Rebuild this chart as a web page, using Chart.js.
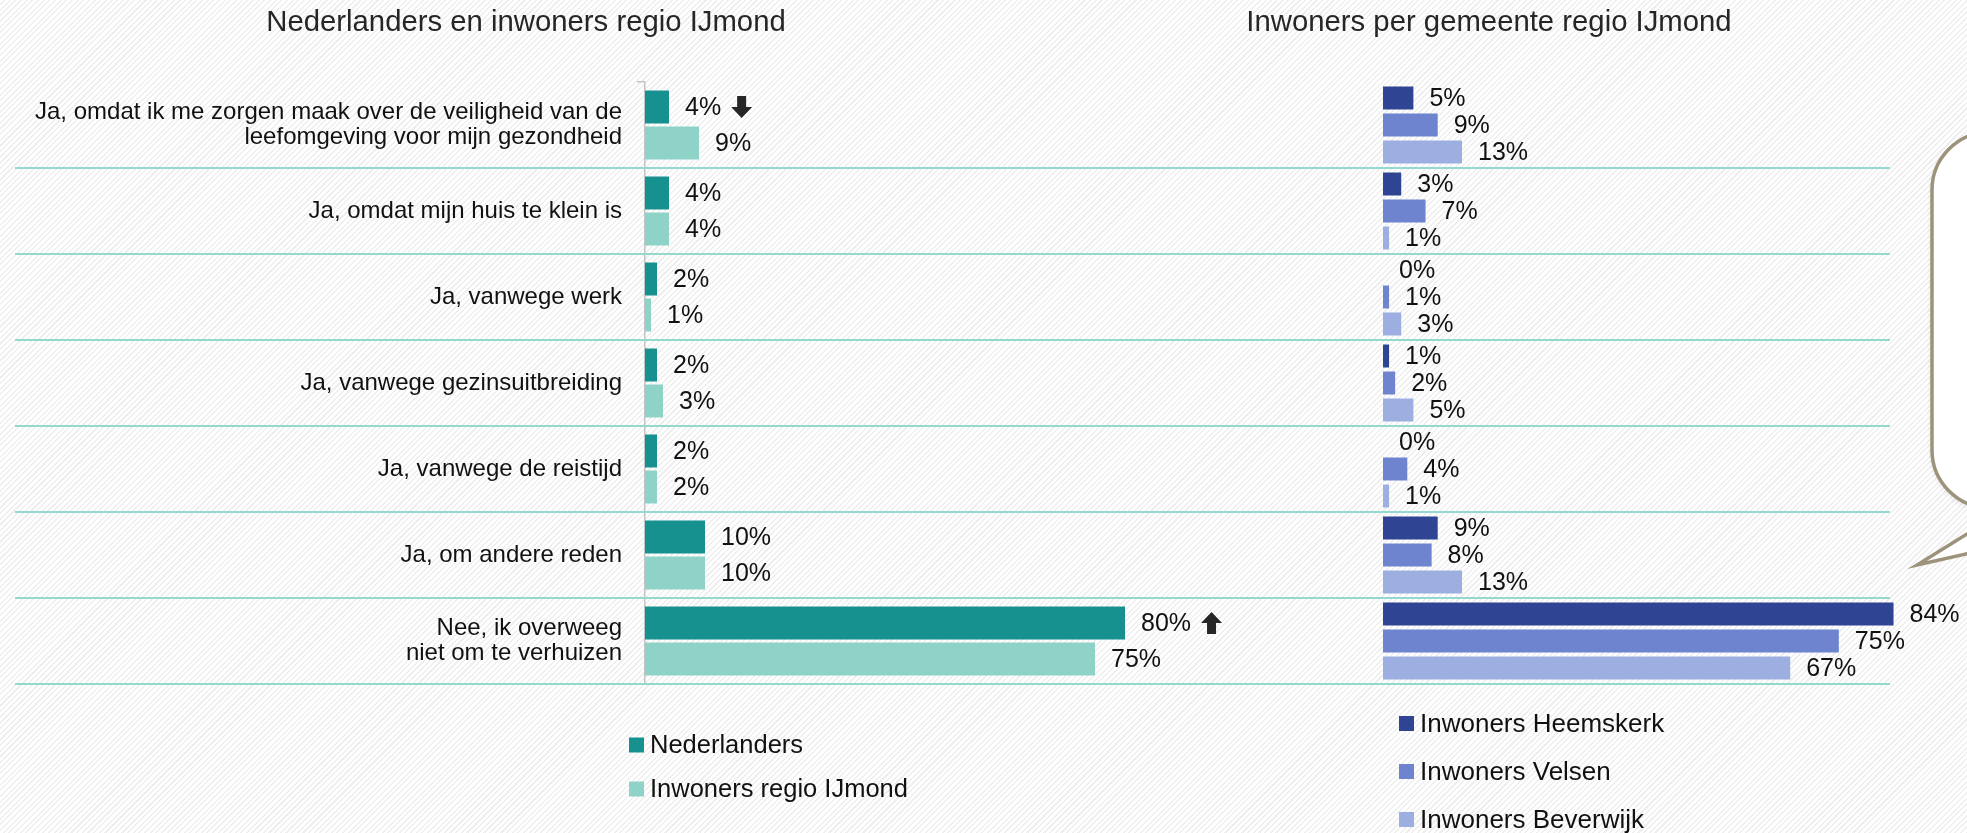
<!DOCTYPE html>
<html><head><meta charset="utf-8">
<script src="https://cdn.jsdelivr.net/npm/chart.js@4.4.1/dist/chart.umd.min.js"></script>
<style>
html,body{margin:0;padding:0;width:1967px;height:833px;overflow:hidden;
background:#fff repeating-linear-gradient(135deg,#ffffff 0px,#ffffff 2.5px,#efefef 2.5px,#efefef 4px);}
#wrap{position:relative;width:1967px;height:833px;}
canvas{position:absolute;left:0;top:0;}
</style></head>
<body><div id="wrap"><canvas id="c1" width="1967" height="833"></canvas><canvas id="c2" width="1967" height="833"></canvas></div>
<script>
const FONT = '"Liberation Sans", Arial, Helvetica, sans-serif';

// ---- data ----
const categories = [
  ['Ja, omdat ik me zorgen maak over de veiligheid van de', 'leefomgeving voor mijn gezondheid'],
  'Ja, omdat mijn huis te klein is',
  'Ja, vanwege werk',
  'Ja, vanwege gezinsuitbreiding',
  'Ja, vanwege de reistijd',
  'Ja, om andere reden',
  ['Nee, ik overweeg', 'niet om te verhuizen']
];
const leftTitle = 'Nederlanders en inwoners regio IJmond';
const rightTitle = 'Inwoners per gemeente regio IJmond';
const leftSeries = ['Nederlanders', 'Inwoners regio IJmond'];
const rightSeries = ['Inwoners Heemskerk', 'Inwoners Velsen', 'Inwoners Beverwijk'];
const nederlanders = [4, 4, 2, 2, 2, 10, 80];
const ijmond = [9, 4, 1, 3, 2, 10, 75];
const heemskerk = [5, 3, 0, 1, 0, 9, 84];
const velsen = [9, 7, 1, 2, 4, 8, 75];
const beverwijk = [13, 1, 3, 5, 1, 13, 67];
const nederlandersSignif = ['down', null, null, null, null, null, 'up'];

const leftColors = ['#17918f', '#8fd3c8'];
const rightColors = ['#2f4593', '#6f84cf', '#9dafe0'];

Chart.defaults.font.family = FONT;
Chart.defaults.color = '#1a1a1a';

function drawArrow(ctx, x, cy, dir) {
  const w = 21, h = 22, sw = 9, hh = 11;
  const cx = x + w / 2;
  ctx.beginPath();
  if (dir === 'down') {
    const top = cy - h / 2;
    ctx.moveTo(cx - sw / 2, top);
    ctx.lineTo(cx + sw / 2, top);
    ctx.lineTo(cx + sw / 2, top + h - hh);
    ctx.lineTo(cx + w / 2, top + h - hh);
    ctx.lineTo(cx, top + h);
    ctx.lineTo(cx - w / 2, top + h - hh);
    ctx.lineTo(cx - sw / 2, top + h - hh);
  } else {
    const bot = cy + h / 2;
    ctx.moveTo(cx - sw / 2, bot);
    ctx.lineTo(cx + sw / 2, bot);
    ctx.lineTo(cx + sw / 2, bot - h + hh);
    ctx.lineTo(cx + w / 2, bot - h + hh);
    ctx.lineTo(cx, bot - h);
    ctx.lineTo(cx - w / 2, bot - h + hh);
    ctx.lineTo(cx - sw / 2, bot - h + hh);
  }
  ctx.closePath();
  ctx.fillStyle = '#262626';
  ctx.fill();
}

const overlay = {
  id: 'overlay',
  beforeDatasetsDraw(chart, args, o) {
    if (!o.separators) return;
    const ctx = chart.ctx, ys = chart.scales.y, n = chart.data.labels.length;
    const step = ys.getPixelForValue(1) - ys.getPixelForValue(0);
    ctx.save();
    ctx.strokeStyle = '#95d8cf';
    ctx.lineWidth = 2;
    for (let i = 0; i < n; i++) {
      const yy = Math.round(ys.getPixelForValue(i) + step / 2);
      ctx.beginPath();
      ctx.moveTo(o.separators[0], yy);
      ctx.lineTo(o.separators[1], yy);
      ctx.stroke();
    }
    ctx.restore();
  },
  afterDatasetsDraw(chart, args, o) {
    const ctx = chart.ctx;
    ctx.save();
    ctx.font = '25px ' + FONT;
    ctx.textAlign = 'left';
    ctx.textBaseline = 'middle';
    chart.data.datasets.forEach((ds, di) => {
      const meta = chart.getDatasetMeta(di);
      meta.data.forEach((bar, i) => {
        const txt = ds.data[i] + '%';
        const tx = bar.x + 16;
        ctx.fillStyle = '#111111';
        ctx.fillText(txt, tx, bar.y + 1);
        const sig = ds.signif ? ds.signif[i] : null;
        if (sig) {
          const w = ctx.measureText(txt).width;
          drawArrow(ctx, tx + w + 10, bar.y, sig);
        }
      });
    });
    ctx.restore();
  },
  afterDraw(chart, args, o) {
    const ctx = chart.ctx;
    ctx.save();
    // title
    ctx.font = '29.3px ' + FONT;
    ctx.fillStyle = '#262626';
    ctx.textAlign = 'center';
    ctx.textBaseline = 'middle';
    ctx.fillText(o.title, o.titleX, 23);
    // legend
    ctx.font = o.legendSize + 'px ' + FONT;
    ctx.textAlign = 'left';
    chart.data.datasets.forEach((ds, i) => {
      const cy = o.legendY + i * o.legendStep;
      ctx.fillStyle = ds.backgroundColor;
      ctx.fillRect(o.legendX, cy - 7.5, 15, 15);
      ctx.fillStyle = '#111111';
      ctx.fillText(ds.label, o.legendX + 21, cy + 1);
    });
    // callout
    if (o.callout) {
      ctx.strokeStyle = '#9d927a';
      ctx.lineWidth = 3.5;
      ctx.fillStyle = '#ffffff';
      ctx.shadowColor = 'rgba(0,0,0,0.12)';
      ctx.shadowBlur = 6;
      ctx.shadowOffsetY = 2;
      ctx.beginPath();
      ctx.roundRect(1932, 132, 200, 376, 58);
      ctx.fill();
      ctx.shadowColor = 'transparent';
      ctx.stroke();
      ctx.beginPath();
      ctx.moveTo(1975, 529);
      ctx.lineTo(1917, 565);
      ctx.lineTo(1975, 552);
      ctx.closePath();
      ctx.fill();
      ctx.beginPath();
      ctx.moveTo(1975, 529);
      ctx.lineTo(1917, 565);
      ctx.lineTo(1975, 552);
      ctx.stroke();
    }
    ctx.restore();
  }
};

new Chart(document.getElementById('c1'), {
  type: 'bar',
  data: {
    labels: categories,
    datasets: [
      { label: leftSeries[0], data: nederlanders, backgroundColor: leftColors[0], signif: nederlandersSignif },
      { label: leftSeries[1], data: ijmond, backgroundColor: leftColors[1] }
    ]
  },
  options: {
    indexAxis: 'y', responsive: false, animation: false, devicePixelRatio: 1,
    layout: { padding: { left: 0, right: 782, top: 82, bottom: 149 } },
    datasets: { bar: { categoryPercentage: 72 / 86, barPercentage: 33 / 36 } },
    scales: {
      x: { type: 'linear', display: false, min: 0, max: 90 },
      y: {
        type: 'category',
        afterFit(s) { s.width = 645; },
        border: { display: true, color: '#c4c4c4', width: 1.5 },
        grid: { drawOnChartArea: false, drawTicks: true, tickLength: 8, color: '#c4c4c4', lineWidth: 1.5, offset: true },
        ticks: { padding: 15, color: '#111111', font: { size: 24, lineHeight: 1.05 }, crossAlign: 'near', autoSkip: false }
      }
    },
    plugins: {
      legend: { display: false }, tooltip: { enabled: false }, title: { display: false },
      overlay: { separators: [15, 1890], title: leftTitle, titleX: 526, legendX: 629, legendY: 745, legendStep: 44, legendSize: 25.5 }
    }
  },
  plugins: [overlay]
});

new Chart(document.getElementById('c2'), {
  type: 'bar',
  data: {
    labels: categories,
    datasets: [
      { label: rightSeries[0], data: heemskerk, backgroundColor: rightColors[0] },
      { label: rightSeries[1], data: velsen, backgroundColor: rightColors[1] },
      { label: rightSeries[2], data: beverwijk, backgroundColor: rightColors[2] }
    ]
  },
  options: {
    indexAxis: 'y', responsive: false, animation: false, devicePixelRatio: 1,
    layout: { padding: { left: 1383, right: 37, top: 82, bottom: 149 } },
    datasets: { bar: { categoryPercentage: 81 / 86, barPercentage: 23 / 27 } },
    scales: {
      x: { type: 'linear', display: false, min: 0, max: 90 },
      y: { type: 'category', display: false }
    },
    plugins: {
      legend: { display: false }, tooltip: { enabled: false }, title: { display: false },
      overlay: { title: rightTitle, titleX: 1489, legendX: 1399, legendY: 723.5, legendStep: 48, legendSize: 26, callout: true }
    }
  },
  plugins: [overlay]
});
</script>
</body></html>
